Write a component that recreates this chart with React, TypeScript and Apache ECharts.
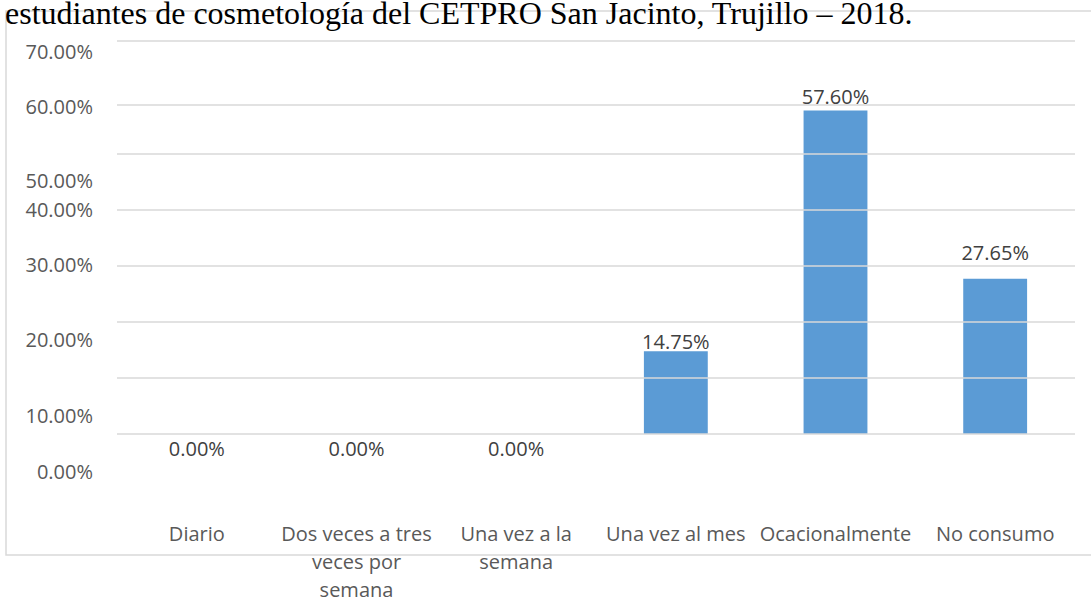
import React, { useEffect, useRef } from "react";
import * as echarts from "echarts";

const TITLE = "estudiantes de cosmetología del CETPRO San Jacinto, Trujillo – 2018.";
const CATEGORIES = [
  "Diario",
  "Dos veces a tres veces por semana",
  "Una vez a la semana",
  "Una vez al mes",
  "Ocacionalmente",
  "No consumo",
];
const CATEGORY_DISPLAY = [
  "Diario",
  "Dos veces a tres\nveces por\nsemana",
  "Una vez a la\nsemana",
  "Una vez al mes",
  "Ocacionalmente",
  "No consumo",
];
const VALUES = [0, 0, 0, 14.75, 57.6, 27.65];
// tick labels as printed, and where the picture places them on the value scale
const Y_TICK_LABELS = ["70.00%", "60.00%", "50.00%", "40.00%", "30.00%", "20.00%", "10.00%", "0.00%"];
const Y_TICK_POSITIONS = [68.1, 58.3, 45.2, 39.9, 30.1, 16.9, 3.2, -6.6];
// horizontal gridlines as drawn in the picture
const GRID_VALUES = [0, 10, 20, 30, 40, 50, 58.6, 70];
// label gaps above bars (style)
const LABEL_DIST = [5, 5, 5, 0, 4, 16];

const FONT = "'Open Sans', sans-serif";

export default function App() {
  const ref = useRef<HTMLDivElement>(null);
  useEffect(() => {
    if (!ref.current) return;
    const chart = echarts.init(ref.current, null, { renderer: "svg" });
    chart.setOption({
      animation: false,
      backgroundColor: "#ffffff",
      title: {
        text: TITLE,
        left: 5,
        top: -3,
        padding: 0,
        textStyle: {
          fontFamily: "'Liberation Serif', 'Times New Roman', serif",
          fontSize: 32,
          fontWeight: "normal",
          color: "#000000",
        },
        z: 10,
      },
      graphic: [
        {
          type: "rect",
          z: -1,
          silent: true,
          shape: { x: 6, y: 11, width: 1100, height: 544 },
          style: { fill: "none", stroke: "#d9d9d9", lineWidth: 1.5 },
        },
      ],
      grid: {
        left: 117,
        right: 16,
        top: 41,
        bottom: 110.9,
        containLabel: false,
        outerBoundsMode: "none",
      },
      xAxis: {
        type: "category",
        data: CATEGORIES,
        axisLine: { show: false },
        axisTick: { show: false },
        axisLabel: {
          interval: 0,
          margin: 29,
          color: "#595959",
          fontFamily: FONT,
          fontSize: 20,
          lineHeight: 28,
          formatter: (v: string) => CATEGORY_DISPLAY[CATEGORIES.indexOf(v)] ?? v,
        },
      },
      yAxis: {
        type: "value",
        min: -10,
        max: 70,
        interval: 10,
        splitLine: { show: false },
        axisLine: { show: false },
        axisTick: { show: false },
        axisLabel: {
          customValues: Y_TICK_POSITIONS,
          margin: 24,
          color: "#595959",
          fontFamily: FONT,
          fontSize: 20,
          formatter: (v: number) => {
            let best = 0;
            Y_TICK_POSITIONS.forEach((p, i) => {
              if (Math.abs(p - v) < Math.abs(Y_TICK_POSITIONS[best] - v)) best = i;
            });
            return Y_TICK_LABELS[best];
          },
        },
      },
      series: [
        {
          type: "bar",
          barWidth: "40%",
          itemStyle: { color: "#5B9BD5" },
          data: VALUES.map((v, i) => ({
            value: v,
            label:
              v === 0
                ? { position: "bottom", distance: LABEL_DIST[i] }
                : { position: "top", distance: LABEL_DIST[i] },
          })),
          label: {
            show: true,
            color: "#404040",
            fontFamily: FONT,
            fontSize: 20,
            lineHeight: 20,
            formatter: (p: any) => Number(p.value).toFixed(2) + "%",
          },
          markLine: {
            silent: true,
            symbol: ["none", "none"],
            label: { show: false },
            lineStyle: { color: "#d9d9d9", width: 1.5, type: "solid" },
            data: GRID_VALUES.map((v) => ({ yAxis: v })),
          },
        },
      ],
    });
    return () => chart.dispose();
  }, []);
  return (
    <div
      ref={ref}
      style={{ position: "fixed", left: 0, top: 0, width: 1091, height: 601 }}
    />
  );
}
